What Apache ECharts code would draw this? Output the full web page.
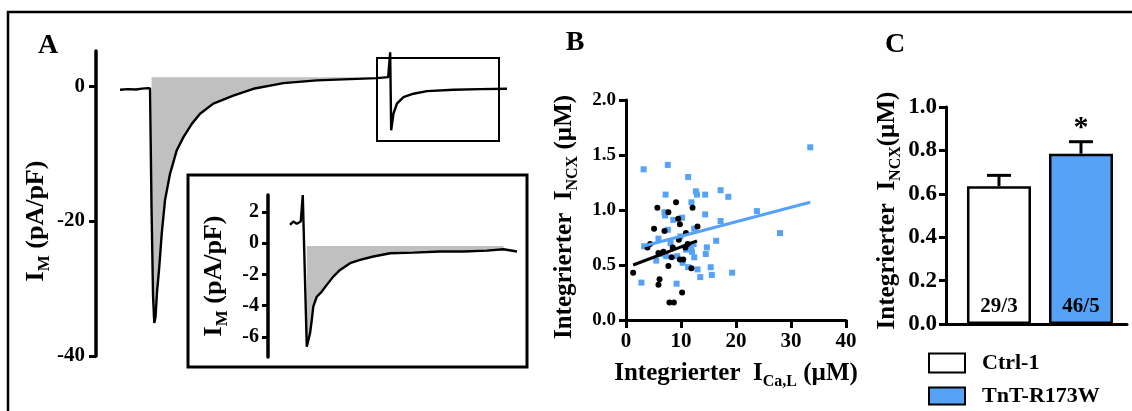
<!DOCTYPE html>
<html>
<head>
<meta charset="utf-8">
<script src="https://cdn.jsdelivr.net/npm/echarts@6.0.0/dist/echarts.min.js"></script>
<style>
  html, body { margin: 0; padding: 0; background: #fff; }
  #chart { width: 1132px; height: 411px; }
</style>
</head>
<body>
<div id="chart"></div>
<script>
// --- Panel A: Membranstrom (Zeit in ms, Strom in pA/pF) ---
const traceTime = [0, 32, 64, 88, 112, 120, 126, 132, 137, 142, 148, 157, 167, 180, 200, 227, 253, 287, 320, 373,
  453, 533, 653, 787, 920, 1027, 1072, 1080, 1084, 1093, 1107, 1133, 1173, 1227, 1333, 1440, 1547];
const traceCurrent = [-0.54, -0.45, -0.5, -0.38, -0.3, -0.36, -18.0, -31.0, -35.1, -34.2, -30.5, -26.8, -21.8, -16.9, -13.0, -9.5,
  -7.6, -5.6, -4.1, -2.6, -1.4, -0.4, 0.44, 0.84, 1.03, 1.18, 1.33, 5.0, -6.56, -4.1, -2.6, -1.63, -1.13, -0.74, -0.54, -0.45, -0.39];
const traceFillLevel = 1.3;
const traceFillRange = [126, 1027];
const mainTicks = [-40, -20, 0];

const insetTime = [0, 13, 27, 43, 48, 51, 56, 67, 73, 80, 87, 93, 107, 127, 147, 173, 200, 240, 280, 333,
  400, 493, 600, 693, 787, 853, 907];
const insetCurrent = [1.18, 1.4, 1.25, 1.4, 1.29, 3.1, 3.1, -6.64, -6.53, -5.78, -4.93, -4.07, -3.43, -3.1, -2.67, -2.14,
  -1.71, -1.28, -1.07, -0.85, -0.64, -0.6, -0.53, -0.53, -0.47, -0.38, -0.53];
const insetFillLevel = -0.17;
const insetFillRange = [67, 853];
const insetTicks = [-6, -4, -2, 0, 2];

// --- Panel B: integrierter I_Ca,L vs. I_NCX ---
const ctrlCa = [1.3, 3.9, 4.4, 5.1, 5.7, 5.9, 6.1, 5.9, 7.0, 7.7, 7.7, 7.9, 8.7, 8.3, 8.5, 9.1, 9.5, 9.8, 9.6, 9.8,
  10.4, 10.2, 10.8, 10.9, 11.2, 11.9, 12.1, 13.0, 6.8];
const ctrlNcx = [0.43, 0.66, 0.69, 0.83, 1.02, 0.32, 0.37, 0.61, 0.81, 0.98, 0.49, 0.16, 0.16, 0.57, 0.66, 1.07, 0.92, 0.87, 0.73, 0.55,
  0.55, 0.25, 0.66, 0.79, 0.69, 0.47, 1.02, 0.85, 0.62];
const tntCa = [2.8, 3.2, 3.3, 5.5, 5.9, 7.0, 7.2, 7.1, 7.3, 7.6, 7.6, 8.1, 8.6, 9.2, 9.3, 10.2, 10.3, 10.9, 11.3, 11.3,
  11.8, 11.9, 12.0, 12.4, 12.4, 12.7, 12.9, 13.0, 13.5, 14.4, 14.4, 14.5, 14.7, 15.4, 15.6, 16.4, 17.2, 17.2, 18.6, 19.3,
  23.8, 28.0, 33.5, 12.3, 6.5, 9.9];
const tntNcx = [0.34, 1.37, 0.67, 0.54, 0.74, 0.98, 1.14, 0.95, 0.58, 1.41, 0.82, 0.7, 0.91, 0.33, 0.58, 0.93, 0.52, 0.64, 1.3, 0.48,
  0.67, 1.07, 0.62, 0.83, 0.57, 1.17, 1.14, 0.46, 0.39, 1.14, 0.96, 0.6, 0.66, 0.48, 0.41, 0.72, 1.18, 0.9, 1.12, 0.43,
  0.99, 0.79, 1.57, 0.69, 0.6, 0.76];
const ctrlFitX = [1.3, 12.9];
const ctrlFitY = [0.5, 0.72];
const tntFitX = [3.1, 33.5];
const tntFitY = [0.67, 1.07];

// --- Panel C: Mittelwerte ---
const groups = ['Ctrl-1', 'TnT-R173W'];
const groupMean = [0.635, 0.785];
const groupSem = [0.05, 0.055];
const groupN = ['29/3', '46/5'];
const groupSig = ['', '*'];

const FONT = '"Liberation Serif", "DejaVu Serif", serif';
const BLUE = '#56a2f7';
const barColors = ['#ffffff', BLUE];

const zip = (xs, ys) => xs.map((x, i) => [x, ys[i]]);
const inRange = (xs, ys, r) => zip(xs, ys).filter(p => p[0] >= r[0] && p[0] <= r[1]);

const rich = (size, sub) => ({
  t: { fontFamily: FONT, fontSize: size, fontWeight: 'bold', color: '#000', lineHeight: size + 8 },
  s: { fontFamily: FONT, fontSize: sub, fontWeight: 'bold', color: '#000', verticalAlign: 'bottom' }
});

const tickLabel = (size, margin, fmt) => ({
  fontFamily: FONT, fontSize: size, fontWeight: 'bold', color: '#000', margin, formatter: fmt
});

const blackLine = w => ({ show: true, onZero: false, lineStyle: { color: '#000', width: w } });
const blackTick = (len, w) => ({ show: true, length: len, lineStyle: { color: '#000', width: w } });

const legendText = { fontFamily: FONT, fontSize: 22, fontWeight: 'bold', color: '#000', padding: [0, 0, 0, 12] };

const chart = echarts.init(document.getElementById('chart'), null, { renderer: 'canvas' });

chart.setOption({
  animation: false,
  backgroundColor: '#fff',
  grid: [
    { left: 120, top: 51, width: 387, height: 305, outerBoundsMode: 'none' },
    { left: 290, top: 195, width: 227, height: 162, outerBoundsMode: 'none' },
    { left: 626, top: 100, width: 220, height: 220, outerBoundsMode: 'none' },
    { left: 946, top: 107, width: 181, height: 217, outerBoundsMode: 'none' }
  ],
  xAxis: [
    { gridIndex: 0, type: 'value', min: 0, max: 1547, show: false },
    { gridIndex: 1, type: 'value', min: 0, max: 907, show: false },
    {
      gridIndex: 2, type: 'value', min: 0, max: 40, interval: 10,
      axisLine: blackLine(3), axisTick: blackTick(8, 3), splitLine: { show: false },
      axisLabel: tickLabel(21, 11),
      name: '{t|Integrierter  I}{s|Ca,L}{t| (µM)}', nameLocation: 'middle', nameGap: 37,
      nameTextStyle: { rich: rich(25, 16) }
    },
    {
      gridIndex: 3, type: 'value', min: -0.646, max: 1.561,
      axisLine: blackLine(3), axisTick: { show: false }, axisLabel: { show: false }, splitLine: { show: false }
    }
  ],
  yAxis: [
    {
      gridIndex: 0, type: 'value', min: -40, max: 5.2, offset: 24,
      axisLine: blackLine(3.5),
      axisTick: Object.assign(blackTick(7, 3), { customValues: mainTicks }),
      axisLabel: Object.assign(tickLabel(21, 11), { customValues: mainTicks }),
      splitLine: { show: false },
      name: '{t|I}{s|M}{t| (pA/pF)}', nameLocation: 'middle', nameGap: 42, nameRotate: 90,
      nameTextStyle: { rich: rich(26, 17), padding: [0, 35, 0, 0] }
    },
    {
      gridIndex: 1, type: 'value', min: -7.3, max: 3.1, offset: 22,
      axisLine: blackLine(3.5),
      axisTick: Object.assign(blackTick(6, 3), { customValues: insetTicks }),
      axisLabel: Object.assign(tickLabel(20, 9), { customValues: insetTicks }),
      splitLine: { show: false },
      name: '{t|I}{s|M}{t| (pA/pF)}', nameLocation: 'middle', nameGap: 37, nameRotate: 90,
      nameTextStyle: { rich: rich(26, 17) }
    },
    {
      gridIndex: 2, type: 'value', min: 0, max: 2, interval: 0.5,
      axisLine: blackLine(3), axisTick: blackTick(7, 3), splitLine: { show: false },
      axisLabel: tickLabel(19, 10, v => v.toFixed(1)),
      name: '{t|Integrierter  I}{s|NCX}{t| (µM)}', nameLocation: 'middle', nameGap: 45, nameRotate: 90,
      nameTextStyle: { rich: rich(25, 16), padding: [0, 14, 0, 0] }
    },
    {
      gridIndex: 3, type: 'value', min: 0, max: 1, interval: 0.2,
      axisLine: blackLine(3), axisTick: blackTick(7, 3), splitLine: { show: false },
      axisLabel: tickLabel(23, 9, v => v.toFixed(1)),
      name: '{t|Integrierter  I}{s|NCX}{t|(µM)}', nameLocation: 'middle', nameGap: 42, nameRotate: 90,
      nameTextStyle: { rich: rich(25, 16), padding: [0, 0, 0, 10] }
    }
  ],
  legend: [
    {
      data: [groups[0]], left: 923, top: 347, icon: 'rect', itemWidth: 36, itemHeight: 19,
      selectedMode: false, textStyle: legendText
    },
    {
      data: [groups[1]], left: 923, top: 380, icon: 'rect', itemWidth: 36, itemHeight: 17,
      selectedMode: false, textStyle: legendText
    }
  ],
  series: [
    // C: Balken (zuerst, damit die Legende diese Stile nimmt)
    ...groups.map((name, i) => ({
      name, type: 'bar', xAxisIndex: 3, yAxisIndex: 3,
      barWidth: 64, barGap: '-100%',
      data: [[i, groupMean[i]]],
      itemStyle: { color: barColors[i], borderColor: '#000', borderWidth: 2.5 },
      label: {
        show: true, position: 'insideBottom', distance: 7, formatter: groupN[i],
        fontFamily: FONT, fontSize: 21, fontWeight: 'bold', color: '#000'
      }
    })),
    {
      type: 'custom', xAxisIndex: 3, yAxisIndex: 3, z: 5,
      data: groups.map((g, i) => [i, groupMean[i], groupSem[i]]),
      renderItem: (params, api) => {
        const i = api.value(0);
        const base = api.coord([i, api.value(1)]);
        const top = api.coord([i, api.value(1) + api.value(2)]);
        const half = 12;
        const children = [
          { type: 'line', shape: { x1: base[0], y1: base[1], x2: top[0], y2: top[1] }, style: { stroke: '#000', lineWidth: 3 } },
          { type: 'line', shape: { x1: top[0] - half, y1: top[1], x2: top[0] + half, y2: top[1] }, style: { stroke: '#000', lineWidth: 3 } }
        ];
        if (groupSig[params.dataIndex]) {
          children.push({
            type: 'text',
            style: {
              x: top[0], y: top[1] - 13, text: groupSig[params.dataIndex], fill: '#000',
              font: 'bold 30px ' + FONT, align: 'center', verticalAlign: 'middle'
            }
          });
        }
        return { type: 'group', children };
      }
    },
    // A: Stromspur mit Flächenintegral
    {
      type: 'line', xAxisIndex: 0, yAxisIndex: 0, z: 1,
      data: inRange(traceTime, traceCurrent, traceFillRange),
      showSymbol: false, lineStyle: { width: 0 },
      areaStyle: { color: '#c0c0c0', opacity: 1, origin: traceFillLevel }
    },
    {
      type: 'line', xAxisIndex: 0, yAxisIndex: 0, z: 3,
      data: zip(traceTime, traceCurrent),
      showSymbol: false, lineStyle: { color: '#000', width: 2.4 }
    },
    {
      type: 'line', xAxisIndex: 1, yAxisIndex: 1, z: 1,
      data: inRange(insetTime, insetCurrent, insetFillRange),
      showSymbol: false, lineStyle: { width: 0 },
      areaStyle: { color: '#c0c0c0', opacity: 1, origin: insetFillLevel }
    },
    {
      type: 'line', xAxisIndex: 1, yAxisIndex: 1, z: 3,
      data: zip(insetTime, insetCurrent),
      showSymbol: false, lineStyle: { color: '#000', width: 2.4 }
    },
    // B: Streudiagramm + Regressionsgeraden
    {
      name: 'TnT-R173W', type: 'scatter', xAxisIndex: 2, yAxisIndex: 2, z: 2,
      data: zip(tntCa, tntNcx), symbol: 'rect', symbolSize: 6, itemStyle: { color: BLUE, opacity: 1 }
    },
    {
      name: 'Ctrl-1', type: 'scatter', xAxisIndex: 2, yAxisIndex: 2, z: 3,
      data: zip(ctrlCa, ctrlNcx), symbol: 'circle', symbolSize: 6, itemStyle: { color: '#000', opacity: 1 }
    },
    {
      type: 'line', xAxisIndex: 2, yAxisIndex: 2, z: 4,
      data: zip(tntFitX, tntFitY), showSymbol: false, lineStyle: { color: BLUE, width: 3 }
    },
    {
      type: 'line', xAxisIndex: 2, yAxisIndex: 2, z: 5,
      data: zip(ctrlFitX, ctrlFitY), showSymbol: false, lineStyle: { color: '#000', width: 3 }
    }
  ],
  graphic: [
    { type: 'polyline', shape: { points: [[8, 430], [8, 12], [1150, 12]] }, style: { stroke: '#000', lineWidth: 2.5, fill: null } },
    { type: 'rect', shape: { x: 377, y: 58, width: 122, height: 83 }, style: { stroke: '#000', lineWidth: 2, fill: null } },
    { type: 'rect', shape: { x: 188, y: 175, width: 339, height: 192 }, style: { stroke: '#000', lineWidth: 3, fill: null } },
    { type: 'text', x: 48, y: 46, style: { text: 'A', font: 'bold 28px ' + FONT, fill: '#000', align: 'center', verticalAlign: 'middle' } },
    { type: 'text', x: 575, y: 43, style: { text: 'B', font: 'bold 28px ' + FONT, fill: '#000', align: 'center', verticalAlign: 'middle' } },
    { type: 'text', x: 895, y: 45, style: { text: 'C', font: 'bold 28px ' + FONT, fill: '#000', align: 'center', verticalAlign: 'middle' } }
  ]
});
</script>
</body>
</html>
